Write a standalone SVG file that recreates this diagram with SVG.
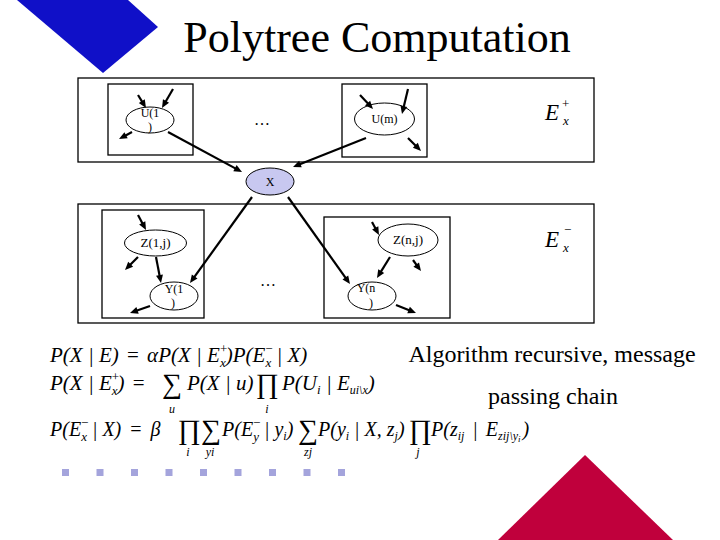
<svg xmlns="http://www.w3.org/2000/svg" width="720" height="540" viewBox="0 0 720 540">
<rect width="720" height="540" fill="#fff"/>
<polygon points="17,0 128,0 158,27 103,73" fill="#1010C8"/>
<polygon points="585,455 498,540 673,540" fill="#C0003C"/>
<text x="377" y="52" font-family="Liberation Serif" style="font-family:'Liberation Serif'" font-size="44" text-anchor="middle" fill="#000">Polytree Computation</text>

<g fill="none" stroke="#000" stroke-width="1.3">
<rect id="parents-box" x="78" y="78" width="516" height="84"/>
<rect id="children-box" x="78" y="204" width="516" height="119"/>
</g>

<g font-family="Liberation Serif" font-size="12" text-anchor="middle" fill="#000">
<g id="node-u1">
<rect x="108" y="84" width="85" height="71" fill="none" stroke="#000" stroke-width="1.3"/>
<ellipse cx="150" cy="120" rx="24" ry="13" fill="#fff" stroke="#000"/>
<text style="font-family:'Liberation Serif'" x="150" y="117">U(1</text>
<text style="font-family:'Liberation Serif'" x="150" y="131">)</text>
</g>
<g id="node-um">
<rect x="342" y="84" width="85" height="73" fill="none" stroke="#000" stroke-width="1.3"/>
<ellipse cx="384.5" cy="119" rx="30" ry="16" fill="#fff" stroke="#000"/>
<text style="font-family:'Liberation Serif'" x="384.5" y="123">U(m)</text>
</g>
<g id="node-x">
<ellipse cx="270" cy="181.5" rx="24" ry="13.5" fill="#C8C8F0" stroke="#000"/>
<text style="font-family:'Liberation Serif'" x="270" y="186">X</text>
</g>
<g id="node-z1j">
<rect x="102" y="210" width="102" height="108" fill="none" stroke="#000" stroke-width="1.3"/>
<ellipse cx="155.5" cy="243" rx="31" ry="13" fill="#fff" stroke="#000"/>
<text style="font-family:'Liberation Serif'" x="155.5" y="247" font-size="13">Z(1,j)</text>
</g>
<g id="node-y1">
<ellipse cx="174" cy="296" rx="24" ry="14" fill="#fff" stroke="#000"/>
<text style="font-family:'Liberation Serif'" x="174" y="293">Y(1</text>
<text style="font-family:'Liberation Serif'" x="173" y="307">)</text>
</g>
<g id="node-znj">
<rect x="324" y="217" width="126" height="101" fill="none" stroke="#000" stroke-width="1.3"/>
<ellipse cx="408" cy="240" rx="30" ry="16" fill="#fff" stroke="#000"/>
<text style="font-family:'Liberation Serif'" x="408" y="244" font-size="13">Z(n,j)</text>
</g>
<g id="node-yn">
<ellipse cx="372" cy="296" rx="24" ry="14" fill="#fff" stroke="#000"/>
<text style="font-family:'Liberation Serif'" x="366" y="292">Y(n</text>
<text style="font-family:'Liberation Serif'" x="371" y="307">)</text>
</g>
</g>

<g id="dots" font-size="16" text-anchor="middle">
<text style="font-family:'Liberation Serif'" x="262" y="125">&#8230;</text>
<text style="font-family:'Liberation Serif'" x="268" y="286">&#8230;</text>
</g>
<g id="e-labels" fill="#000">
<text style="font-family:'Liberation Serif'" x="545" y="120" font-size="23" font-style="italic">E</text>
<text style="font-family:'Liberation Serif'" x="562" y="108" font-size="13">+</text>
<text style="font-family:'Liberation Serif'" x="563" y="125" font-size="13" font-style="italic">x</text>
<text style="font-family:'Liberation Serif'" x="545" y="247" font-size="23" font-style="italic">E</text>
<text style="font-family:'Liberation Serif'" x="564" y="234" font-size="13">&#8722;</text>
<text style="font-family:'Liberation Serif'" x="563" y="252" font-size="13" font-style="italic">x</text>
</g>

<g id="connectors" stroke="#000" stroke-width="2.2" fill="#000">
<line x1="138" y1="95" x2="142.86" y2="102.89"/><polygon stroke="none" points="146,108 138.83,103.01 144.79,99.35"/>
<line x1="173" y1="89" x2="165.01" y2="102.8"/><polygon stroke="none" points="162,108 162.98,99.32 169.04,102.82"/>
<line x1="132" y1="132" x2="124.29" y2="136.16"/><polygon stroke="none" points="119,139 124.39,132.13 127.71,138.29"/>
<line x1="168" y1="132" x2="236.72" y2="169.14"/><polygon stroke="none" points="242,172 233.29,171.28 236.63,165.12"/>
<line x1="360" y1="95" x2="368.91" y2="104.6"/><polygon stroke="none" points="373,109 364.98,105.52 370.12,100.76"/>
<line x1="408" y1="89" x2="403.4" y2="108.17"/><polygon stroke="none" points="402,114 400.47,105.4 407.27,107.04"/>
<line x1="408" y1="138" x2="416.76" y2="146.76"/><polygon stroke="none" points="421,151 412.87,147.81 417.81,142.87"/>
<line x1="366" y1="138" x2="298.57" y2="164.79"/><polygon stroke="none" points="293,167 299.14,160.8 301.72,167.3"/>
<line x1="252" y1="197" x2="193.51" y2="278.13"/><polygon stroke="none" points="190,283 191.84,274.46 197.52,278.56"/>
<line x1="288" y1="197" x2="346.52" y2="279.12"/><polygon stroke="none" points="350,284 342.51,279.52 348.21,275.46"/>
<line x1="138" y1="215" x2="143.17" y2="224.71"/><polygon stroke="none" points="146,230 139.14,224.59 145.32,221.29"/>
<line x1="138" y1="257" x2="129.24" y2="265.76"/><polygon stroke="none" points="125,270 128.19,261.87 133.13,266.81"/>
<line x1="156" y1="257" x2="159.87" y2="277.11"/><polygon stroke="none" points="161,283 156.05,275.8 162.93,274.48"/>
<line x1="150" y1="306" x2="135.66" y2="311.02"/><polygon stroke="none" points="130,313 136.39,307.06 138.71,313.66"/>
<line x1="372" y1="222" x2="376.16" y2="229.71"/><polygon stroke="none" points="379,235 372.13,229.61 378.29,226.29"/>
<line x1="390" y1="257" x2="380.16" y2="272.9"/><polygon stroke="none" points="377,278 378.23,269.36 384.19,273.04"/>
<line x1="413" y1="260" x2="417.4" y2="266.2"/><polygon stroke="none" points="421,271 413.4,266.7 419,262.5"/>
<line x1="396" y1="305" x2="410.43" y2="310.77"/><polygon stroke="none" points="416,313 407.28,313.28 409.88,306.78"/>
</g>

<g id="formulas" fill="#000" font-style="italic" font-size="21">
<text style="font-family:'Liberation Serif'" x="50" y="362">P(X | E) <tspan font-style="normal" dx="3">=</tspan> <tspan dx="3">&#945;</tspan>P(X | E<tspan font-size="13" font-style="normal" dy="-9">+</tspan><tspan font-size="13" dx="-7.3" dy="14">x</tspan><tspan dy="-5">)P(E</tspan><tspan font-size="13" font-style="normal" dy="-9">&#8722;</tspan><tspan font-size="13" dx="-7.3" dy="14">x</tspan><tspan dy="-5"> | X)</tspan></text>

<text style="font-family:'Liberation Serif'" x="50" y="390">P(X | E<tspan font-size="13" font-style="normal" dy="-9">+</tspan><tspan font-size="13" dx="-7.3" dy="14">x</tspan><tspan dy="-5">) </tspan><tspan font-style="normal" dx="3">=</tspan></text>
<text style="font-family:'Liberation Serif'" font-style="normal" font-size="28" text-anchor="middle" x="172" y="393">&#8721;</text>
<text style="font-family:'Liberation Serif'" x="187" y="390">P(X | u)</text>
<text style="font-family:'Liberation Serif'" font-style="normal" font-size="28" text-anchor="middle" x="267" y="393">&#8719;</text>
<text style="font-family:'Liberation Serif'" x="282" y="390">P(U<tspan font-size="13" dy="4">i</tspan><tspan dy="-4"> | E</tspan><tspan font-size="12" dy="4">ui&#92;x</tspan><tspan dy="-4">)</tspan></text>
<g font-size="12" text-anchor="middle">
<text style="font-family:'Liberation Serif'" x="172" y="413">u</text>
<text style="font-family:'Liberation Serif'" x="267" y="413">i</text>
</g>

<g font-size="20">
<text style="font-family:'Liberation Serif'" x="50" y="436">P(E<tspan font-size="13" font-style="normal" dy="-9">&#8722;</tspan><tspan font-size="13" dx="-7.3" dy="14">x</tspan><tspan dy="-5"> | X) </tspan><tspan font-style="normal" dx="4">=</tspan> <tspan dx="4">&#946;</tspan></text>
<text style="font-family:'Liberation Serif'" x="222" y="436">P(E<tspan font-size="13" font-style="normal" dy="-9">&#8722;</tspan><tspan font-size="13" dx="-7.3" dy="14">y</tspan><tspan dy="-5"> | y</tspan><tspan font-size="12" dy="4">i</tspan><tspan dy="-4">)</tspan></text>
<text style="font-family:'Liberation Serif'" x="318" y="436">P(y<tspan font-size="12" dy="4">i</tspan><tspan dy="-4"> | X, z</tspan><tspan font-size="12" dy="4">j</tspan><tspan dy="-4">)</tspan></text>
<text style="font-family:'Liberation Serif'" x="431" y="436">P(z<tspan font-size="12" dy="4">ij</tspan><tspan dy="-4" dx="3"> | </tspan><tspan dx="3">E</tspan><tspan font-size="12" dy="4">zij&#92;y</tspan><tspan font-size="9" dy="2">i</tspan><tspan dy="-6" dx="2">)</tspan></text>
</g>
<g font-style="normal" font-size="28" text-anchor="middle">
<text style="font-family:'Liberation Serif'" x="189" y="439">&#8719;</text>
<text style="font-family:'Liberation Serif'" x="211" y="439">&#8721;</text>
<text style="font-family:'Liberation Serif'" x="308" y="439">&#8721;</text>
<text style="font-family:'Liberation Serif'" x="420" y="439">&#8719;</text>
</g>
<g font-size="12" text-anchor="middle">
<text style="font-family:'Liberation Serif'" x="188" y="456">i</text>
<text style="font-family:'Liberation Serif'" x="210" y="456">yi</text>
<text style="font-family:'Liberation Serif'" x="308" y="456">zj</text>
<text style="font-family:'Liberation Serif'" x="418" y="456">j</text>
</g>
</g>

<g id="note" font-size="24" text-anchor="middle" fill="#000">
<text style="font-family:'Liberation Serif'" x="552" y="362">Algorithm recursive, message</text>
<text style="font-family:'Liberation Serif'" x="553" y="404">passing chain</text>
</g>

<g id="squares" fill="#A4A4DC">
<rect x="62" y="469" width="7" height="7"/>
<rect x="96.5" y="469" width="7" height="7"/>
<rect x="131" y="469" width="7" height="7"/>
<rect x="165.5" y="469" width="7" height="7"/>
<rect x="200" y="469" width="7" height="7"/>
<rect x="234.5" y="469" width="7" height="7"/>
<rect x="269" y="469" width="7" height="7"/>
<rect x="303.5" y="469" width="7" height="7"/>
<rect x="338" y="469" width="7" height="7"/>
</g>
</svg>
